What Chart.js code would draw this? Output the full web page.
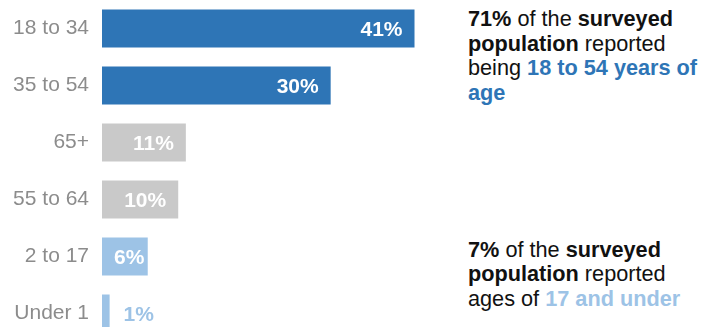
<!DOCTYPE html>
<html>
<head>
<meta charset="utf-8">
<script src="https://cdn.jsdelivr.net/npm/chart.js@4.4.1/dist/chart.umd.min.js"></script>
<style>
  html, body { margin: 0; padding: 0; background: #ffffff; overflow: hidden; width: 713px; height: 327px; }
  #c { position: absolute; left: 0; top: 0; }
  .note { position: absolute; left: 468px; font-family: "Liberation Sans", Arial, sans-serif; white-space: nowrap;
          font-size: 21.7px; line-height: 24.5px; color: #111111; }
  .note b { font-weight: bold; }
  .dark { color: #2E75B6; font-weight: bold; }
  .light { color: #9DC3E6; font-weight: bold; }
</style>
</head>
<body>
<canvas id="c" width="445" height="342"></canvas>
<div class="note" style="top:7px;"><b>71%</b> of the <b>surveyed</b><br><b>population</b> reported<br>being <span class="dark">18 to 54 years of</span><br><span class="dark">age</span></div>
<div class="note" style="top:237.5px;"><b>7%</b> of the <b>surveyed</b><br><b>population</b> reported<br>ages of <span class="light">17 and under</span></div>
<script>
// Age groups, in display order
const ageGroups = ['18 to 34', '35 to 54', '65+', '55 to 64', '2 to 17', 'Under 1'];
// Share of surveyed population (%)
const shares = [41, 30, 11, 10, 6, 1];
// Colour group per bar: adults 18-54, older adults, 17 and under
const groupOf = ['mid', 'mid', 'old', 'old', 'young', 'young'];
const groupColors = { mid: '#2E75B6', old: '#C9C9C9', young: '#9DC3E6' };

const FONT = '"Liberation Sans", Arial, sans-serif';

// Percentage labels drawn at the end of each bar (inside when they fit)
const valueLabels = {
  id: 'valueLabels',
  afterDatasetsDraw(chart) {
    const ctx = chart.ctx;
    const meta = chart.getDatasetMeta(0);
    ctx.save();
    ctx.font = 'bold 21px ' + FONT;
    ctx.textBaseline = 'middle';
    ctx.textAlign = 'left';
    meta.data.forEach((bar, i) => {
      const txt = shares[i] + '%';
      const w = ctx.measureText(txt).width;
      const base = bar.base, end = bar.x;
      const len = end - base;
      let x, color;
      if (w + 10 > len) {
        x = end + 14;
        color = groupColors[groupOf[i]];
      } else {
        x = Math.max(base + 12, end - 12 - w);
        color = '#ffffff';
      }
      ctx.fillStyle = color;
      ctx.fillText(txt, x, bar.y + 1.5);
    });
    ctx.restore();
  }
};

new Chart(document.getElementById('c'), {
  type: 'bar',
  data: {
    labels: ageGroups,
    datasets: [{
      data: shares,
      backgroundColor: groupOf.map(g => groupColors[g]),
      borderWidth: 0,
      categoryPercentage: 1,
      barPercentage: 38 / 57
    }]
  },
  options: {
    indexAxis: 'y',
    responsive: false,
    animation: false,
    layout: { padding: 0 },
    plugins: { legend: { display: false }, tooltip: { enabled: false } },
    scales: {
      x: {
        display: false,
        min: 0,
        max: 45
      },
      y: {
        grid: { display: false, drawTicks: false },
        border: { display: false },
        ticks: {
          color: '#8C8C8C',
          padding: 13,
          font: { family: FONT, size: 21 }
        },
        afterFit(scale) {
          scale.width = 102;
          scale.paddingTop = 0;
          scale.paddingBottom = 0;
        }
      }
    }
  },
  plugins: [valueLabels]
});
</script>
</body>
</html>
